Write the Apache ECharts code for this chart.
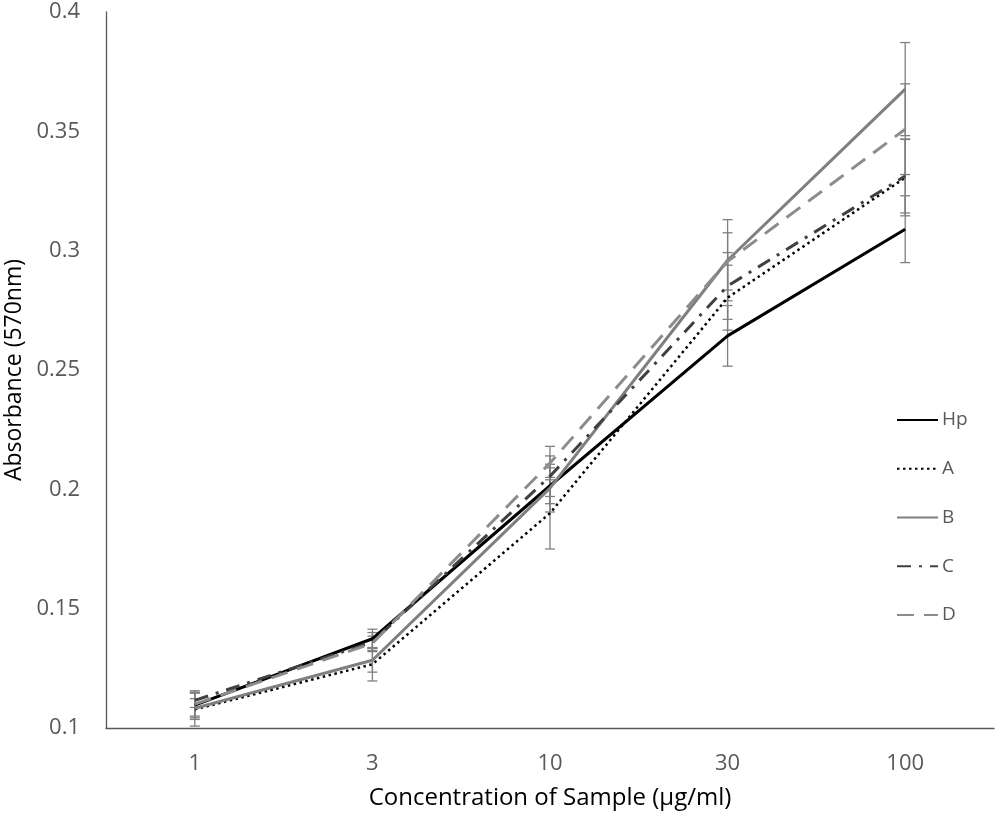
<!DOCTYPE html>
<html>
<head>
<meta charset="utf-8">
<script src="https://cdn.jsdelivr.net/npm/echarts@6/dist/echarts.min.js"></script>
<style>html,body{margin:0;padding:0;background:#fff;}#chart{width:996px;height:813px;}</style>
</head>
<body>
<div id="chart"></div>
<script>
var categories = ['1', '3', '10', '30', '100'];
var yTicks = [0.1, 0.15, 0.2, 0.25, 0.3, 0.35, 0.4];

var hpValues = [0.1096, 0.1374, 0.2015, 0.2643, 0.3090];
var aValues  = [0.1078, 0.1267, 0.1900, 0.2803, 0.3306];
var bValues  = [0.1083, 0.1284, 0.2005, 0.2960, 0.3677];
var cValues  = [0.1116, 0.1360, 0.2055, 0.2852, 0.3313];
var dValues  = [0.1100, 0.1355, 0.2110, 0.2955, 0.3509];

var hpErr = [0.0060, 0.0040, 0.0075, 0.0127, 0.0140];
var aErr  = [0.0070, 0.0070, 0.0150, 0.0136, 0.0160];
var bErr  = [0.0040, 0.0050, 0.0100, 0.0170, 0.0195];
var cErr  = [0.0030, 0.0040, 0.0085, 0.0140, 0.0155];
var dErr  = [0.0050, 0.0030, 0.0070, 0.0120, 0.0190];

var FONT = 'Open Sans';
var chart = echarts.init(document.getElementById('chart'));

function errData(vals, errs) {
  return vals.map(function (v, i) { return [i, v - errs[i], v + errs[i]]; });
}
function errSeries(name, vals, errs) {
  return {
    type: 'custom',
    name: name + ' err',
    z: 1,
    silent: true,
    renderItem: function (params, api) {
      var lo = api.coord([api.value(0), api.value(1)]);
      var hi = api.coord([api.value(0), api.value(2)]);
      var w = 5;
      var st = { stroke: '#7f7f7f', lineWidth: 1.3 };
      return {
        type: 'group',
        children: [
          { type: 'line', shape: { x1: lo[0], y1: lo[1], x2: hi[0], y2: hi[1] }, style: st },
          { type: 'line', shape: { x1: lo[0] - w, y1: lo[1], x2: lo[0] + w, y2: lo[1] }, style: st },
          { type: 'line', shape: { x1: hi[0] - w, y1: hi[1], x2: hi[0] + w, y2: hi[1] }, style: st }
        ]
      };
    },
    encode: { x: 0, y: [1, 2] },
    data: errData(vals, errs)
  };
}
function lineSeries(name, vals, color, type, width) {
  return {
    type: 'line',
    name: name,
    z: 3,
    data: vals,
    symbol: 'none',
    showSymbol: false,
    lineStyle: { color: color, width: width, type: type },
    itemStyle: { color: color }
  };
}

var option = {
  animation: false,
  grid: { left: 106, right: 2, top: 12, bottom: 85, outerBoundsMode: 'none', containLabel: false },
  legend: {
    orient: 'vertical',
    left: 891,
    top: 405,
    itemWidth: 41,
    itemHeight: 20,
    itemGap: 28.75,
    itemStyle: { opacity: 0 },
    textStyle: { color: '#595959', fontSize: 19, lineHeight: 20, fontFamily: FONT, padding: [0, 0, 0, -1] },
    data: ['Hp', 'A', 'B', 'C', 'D']
  },
  xAxis: {
    type: 'category',
    data: categories,
    boundaryGap: true,
    axisLine: { lineStyle: { color: '#595959', width: 1.3 } },
    axisTick: { show: false },
    axisLabel: { color: '#595959', fontSize: 22, fontFamily: FONT, margin: 25 },
    name: 'Concentration of Sample (µg/ml)',
    nameLocation: 'middle',
    nameGap: 58,
    nameTextStyle: { color: '#000', fontSize: 24, fontFamily: FONT }
  },
  yAxis: {
    type: 'value',
    min: yTicks[0],
    max: yTicks[yTicks.length - 1],
    interval: 0.05,
    axisLine: { show: true, lineStyle: { color: '#595959', width: 1.3 } },
    axisTick: { show: false },
    splitLine: { show: false },
    axisLabel: {
      color: '#595959', fontSize: 22, fontFamily: FONT, margin: 26,
      formatter: function (v) { return String(Math.round(v * 100) / 100); }
    },
    name: 'Absorbance (570nm)',
    nameLocation: 'middle',
    nameGap: 80,
    nameRotate: 90,
    nameTextStyle: { color: '#000', fontSize: 23, fontFamily: FONT }
  },
  series: [
    errSeries('Hp', hpValues, hpErr),
    errSeries('A', aValues, aErr),
    errSeries('B', bValues, bErr),
    errSeries('C', cValues, cErr),
    errSeries('D', dValues, dErr),
    lineSeries('Hp', hpValues, '#000000', 'solid', 3),
    lineSeries('A', aValues, '#000000', [2.5, 3.5], 2.5),
    lineSeries('B', bValues, '#7f7f7f', 'solid', 3),
    lineSeries('C', cValues, '#404040', [14, 8, 3, 8], 3),
    lineSeries('D', dValues, '#8c8c8c', [17, 10], 3)
  ]
};
chart.setOption(option);
</script>
</body>
</html>
